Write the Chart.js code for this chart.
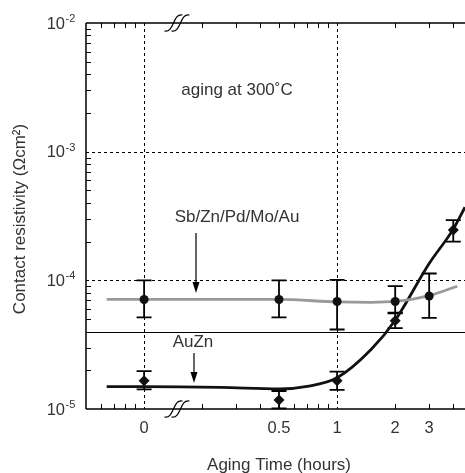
<!DOCTYPE html>
<html>
<head>
<meta charset="utf-8">
<script src="https://cdn.jsdelivr.net/npm/chart.js@4.4.1/dist/chart.umd.min.js"></script>
<style>
  html, body { margin: 0; padding: 0; background: #fff; }
</style>
</head>
<body>
<canvas id="chart" width="465" height="473"></canvas>
<script>
// aging time axis: "0" is drawn on the log axis at 0.1 (left of the break)
const hourLabels = ["0", "0.5", "1", "2", "3"];
const hourTicks = [0.1, 0.5, 1, 2, 3];

// Sb/Zn/Pd/Mo/Au (circles)
const sbHours = [0.1, 0.5, 1, 2, 3];
const sbRho = [7.1e-5, 7.1e-5, 6.85e-5, 6.85e-5, 7.55e-5];
const sbLow = [5.15e-5, 5.15e-5, 4.15e-5, 5.6e-5, 5.1e-5];
const sbHigh = [1.0e-4, 1.0e-4, 1.01e-4, 9.0e-5, 1.13e-4];

// AuZn (diamonds)
const auHours = [0.1, 0.5, 1, 2, 4];
const auRho = [1.66e-5, 1.175e-5, 1.66e-5, 4.85e-5, 2.46e-4];
const auLow = [1.42e-5, 1.01e-5, 1.41e-5, 4.25e-5, 2.0e-4];
const auHigh = [1.97e-5, 1.38e-5, 1.95e-5, 5.55e-5, 2.94e-4];

// trend curves
const sbFitHours = [0.064, 0.1, 0.5, 1, 1.5, 2, 3, 4.2];
const sbFitRho = [7.1e-5, 7.1e-5, 7.1e-5, 6.8e-5, 6.75e-5, 6.85e-5, 7.6e-5, 9.0e-5];
const auFitHours = [0.064, 0.1, 0.25, 0.5, 0.7, 1, 1.5, 2, 3, 4, 4.6];
const auFitRho = [1.49e-5, 1.49e-5, 1.47e-5, 1.43e-5, 1.5e-5, 1.75e-5, 2.9e-5, 4.9e-5, 1.35e-4, 2.5e-4, 3.7e-4];

const refDotted = [1e-3, 1e-4];
const refSolid = 4e-5;

const FONT = '"Liberation Sans", Arial, sans-serif';
const INK = '#333';

function pts(xs, ys) {
  return xs.map((x, i) => ({ x: x, y: ys[i] }));
}

// error bars, reference lines, axes, labels
const decor = {
  id: 'decor',
  beforeDatasetsDraw(chart) {
    const { ctx, chartArea: a, scales: { x, y } } = chart;
    ctx.save();
    ctx.strokeStyle = '#000';
    ctx.lineWidth = 1;
    ctx.setLineDash([3, 3]);
    refDotted.forEach(v => {
      const py = Math.round(y.getPixelForValue(v)) + 0.5;
      ctx.beginPath(); ctx.moveTo(a.left, py); ctx.lineTo(a.right, py); ctx.stroke();
    });
    [0.1, 1].forEach(v => {
      const px = Math.round(x.getPixelForValue(v)) + 0.5;
      ctx.beginPath(); ctx.moveTo(px, a.top); ctx.lineTo(px, a.bottom); ctx.stroke();
    });
    ctx.setLineDash([]);
    const ps = Math.round(y.getPixelForValue(refSolid)) + 0.5;
    ctx.beginPath(); ctx.moveTo(a.left, ps); ctx.lineTo(a.right, ps); ctx.stroke();

    // error bars
    ctx.lineWidth = 1.8;
    const bars = (xs, lo, hi) => xs.forEach((h, i) => {
      const px = x.getPixelForValue(h);
      const y1 = y.getPixelForValue(lo[i]);
      const y2 = y.getPixelForValue(hi[i]);
      ctx.beginPath();
      ctx.moveTo(px, y1); ctx.lineTo(px, y2);
      ctx.moveTo(px - 7.5, y1); ctx.lineTo(px + 7.5, y1);
      ctx.moveTo(px - 7.5, y2); ctx.lineTo(px + 7.5, y2);
      ctx.stroke();
    });
    bars(sbHours, sbLow, sbHigh);
    bars(auHours, auLow, auHigh);
    ctx.restore();
  },
  afterDraw(chart) {
    const { ctx, chartArea: a, scales: { x, y } } = chart;
    ctx.save();
    ctx.strokeStyle = '#000';

    // axis lines
    ctx.lineWidth = 1.5;
    ctx.beginPath();
    ctx.moveTo(a.left, a.top); ctx.lineTo(a.right, a.top);
    ctx.moveTo(a.left, a.top); ctx.lineTo(a.left, a.bottom);
    ctx.moveTo(a.left, a.bottom); ctx.lineTo(a.right, a.bottom);
    ctx.stroke();

    // tick marks
    ctx.lineWidth = 1;
    ctx.beginPath();
    for (let d = -5; d < -2; d++) {
      for (let m = 2; m <= 9; m++) {
        const py = Math.round(y.getPixelForValue(m * Math.pow(10, d))) + 0.5;
        ctx.moveTo(a.left, py); ctx.lineTo(a.left + 5, py);
      }
    }
    const xMinor = [0.06, 0.07, 0.08, 0.09, 0.2, 0.3, 0.4, 0.5, 0.6, 0.7, 0.8, 0.9, 2, 3, 4];
    xMinor.forEach(v => {
      const px = Math.round(x.getPixelForValue(v)) + 0.5;
      ctx.moveTo(px, a.top); ctx.lineTo(px, a.top + 5);
      ctx.moveTo(px, a.bottom); ctx.lineTo(px, a.bottom - 5);
    });
    ctx.stroke();

    // axis break marks
    const brk = (cx, cy) => {
      ctx.lineWidth = 1.2;
      [-3.5, 3.5].forEach(dx => {
        ctx.beginPath();
        ctx.moveTo(cx + dx - 9, cy + 8);
        ctx.bezierCurveTo(cx + dx + 1, cy + 10, cx + dx - 1, cy - 10, cx + dx + 9, cy - 8);
        ctx.stroke();
      });
    };
    const bx = x.getPixelForValue(0.148);
    brk(bx, a.top);
    brk(bx, a.bottom);

    // y tick labels with superscript exponents
    ctx.fillStyle = INK;
    ctx.textBaseline = 'middle';
    [-2, -3, -4, -5].forEach(e => {
      const py = y.getPixelForValue(Math.pow(10, e));
      ctx.font = '16.5px ' + FONT;
      ctx.textAlign = 'right';
      ctx.fillText('10', 65, py + 1);
      ctx.font = '11px ' + FONT;
      ctx.textAlign = 'left';
      ctx.fillText('-' + (-e), 65.5, py - 4);
    });

    // annotations
    ctx.font = '17px ' + FONT;
    ctx.textAlign = 'center';
    ctx.fillText('aging at 300\u02DAC', 237, 90);
    ctx.fillText('Sb/Zn/Pd/Mo/Au', 237, 217);
    ctx.fillText('AuZn', 193, 342);

    const arrow = (px, y1, y2) => {
      ctx.lineWidth = 1.2;
      ctx.beginPath(); ctx.moveTo(px, y1); ctx.lineTo(px, y2 - 8); ctx.stroke();
      ctx.beginPath();
      ctx.moveTo(px, y2); ctx.lineTo(px - 3.5, y2 - 11); ctx.lineTo(px + 3.5, y2 - 11);
      ctx.closePath(); ctx.fill();
    };
    ctx.fillStyle = '#000';
    arrow(196, 233, 293);
    arrow(194, 353, 383);

    // axis titles
    ctx.fillStyle = INK;
    ctx.font = '17px ' + FONT;
    ctx.fillText('Aging Time (hours)', 279, 465);
    ctx.translate(20, 219);
    ctx.rotate(-Math.PI / 2);
    ctx.fillText('Contact resistivity (\u03A9cm\u00B2)', 0, 0);
    ctx.restore();
  }
};

new Chart(document.getElementById('chart'), {
  type: 'scatter',
  data: {
    datasets: [
      {
        label: 'Sb/Zn/Pd/Mo/Au',
        data: pts(sbHours, sbRho),
        pointStyle: 'circle',
        pointRadius: 4.5,
        backgroundColor: '#111',
        borderColor: '#111',
        borderWidth: 0
      },
      {
        label: 'AuZn',
        data: pts(auHours, auRho),
        pointStyle: 'rectRot',
        pointRadius: 5.5,
        backgroundColor: '#111',
        borderColor: '#111',
        borderWidth: 0
      },
      {
        label: 'Sb fit',
        data: pts(sbFitHours, sbFitRho),
        showLine: true,
        pointRadius: 0,
        borderColor: '#9a9a9a',
        borderWidth: 2.8,
        cubicInterpolationMode: 'monotone'
      },
      {
        label: 'AuZn fit',
        data: pts(auFitHours, auFitRho),
        showLine: true,
        pointRadius: 0,
        borderColor: '#111',
        borderWidth: 2.8,
        cubicInterpolationMode: 'monotone'
      }
    ]
  },
  options: {
    responsive: false,
    animation: false,
    layout: { autoPadding: false, padding: { top: 23, right: 0, left: 0, bottom: 0 } },
    plugins: {
      legend: { display: false },
      tooltip: { enabled: false }
    },
    scales: {
      x: {
        type: 'logarithmic',
        min: 0.05,
        max: 4.6,
        grid: { display: false, drawTicks: false },
        border: { display: false },
        afterBuildTicks: s => { s.ticks = hourTicks.map(v => ({ value: v })); },
        afterFit: s => { s.height = 64; s.paddingLeft = 0; s.paddingRight = 0; },
        ticks: {
          autoSkip: false,
          maxRotation: 0,
          padding: 10,
          color: INK,
          font: { family: FONT, size: 16.5 },
          callback: (v, i) => hourLabels[i]
        }
      },
      y: {
        type: 'logarithmic',
        min: 1e-5,
        max: 1e-2,
        grid: { display: false, drawTicks: false },
        border: { display: false },
        ticks: { display: false },
        afterFit: s => { s.width = 86; s.paddingTop = 0; s.paddingBottom = 0; }
      }
    }
  },
  plugins: [decor]
});
</script>
</body>
</html>
